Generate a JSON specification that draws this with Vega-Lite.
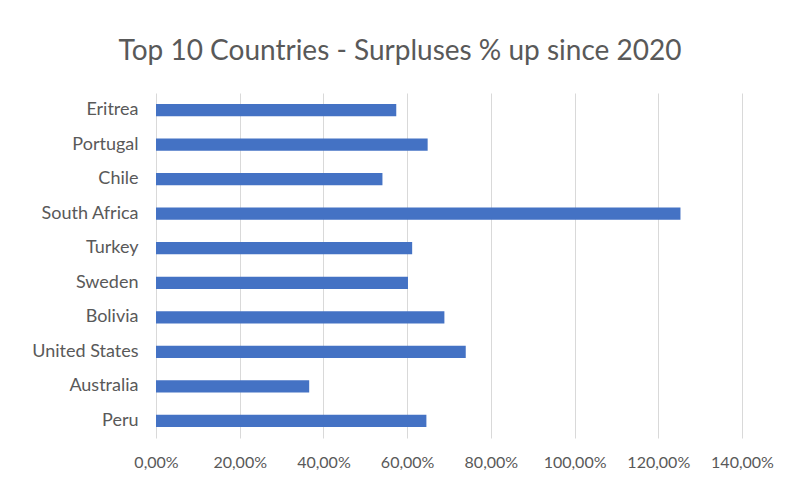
{
  "$schema": "https://vega.github.io/schema/vega-lite/v6.json",
  "width": 586,
  "height": 345,
  "autosize": {"type": "none"},
  "padding": {"left": 156, "top": 93, "right": 47, "bottom": 46},
  "background": "white",
  "title": {
    "text": "Top 10 Countries - Surpluses % up since 2020",
    "font": "Lato",
    "fontSize": 28,
    "fontWeight": "normal",
    "color": "#595959",
    "anchor": "middle",
    "dx": -49,
    "offset": 27
  },
  "data": {
    "values": [
      {"country": "Eritrea", "value": 0.574},
      {"country": "Portugal", "value": 0.649},
      {"country": "Chile", "value": 0.541},
      {"country": "South Africa", "value": 1.253},
      {"country": "Turkey", "value": 0.612},
      {"country": "Sweden", "value": 0.602},
      {"country": "Bolivia", "value": 0.689},
      {"country": "United States", "value": 0.740},
      {"country": "Australia", "value": 0.366},
      {"country": "Peru", "value": 0.646}
    ]
  },
  "mark": {"type": "bar", "color": "#4472C4"},
  "encoding": {
    "y": {
      "field": "country",
      "type": "nominal",
      "sort": null,
      "scale": {"paddingInner": 0.645, "paddingOuter": 0.32},
      "axis": {
        "title": null,
        "ticks": false,
        "domain": false,
        "labelPadding": 18,
        "labelFont": "Lato",
        "labelFontSize": 18,
        "labelColor": "#595959"
      }
    },
    "x": {
      "field": "value",
      "type": "quantitative",
      "scale": {"domain": [0, 1.4], "nice": false},
      "axis": {
        "title": null,
        "values": [0, 0.2, 0.4, 0.6, 0.8, 1.0, 1.2, 1.4],
        "labelExpr": "replace(format(datum.value, '.2%'), '.', ',')",
        "labelOverlap": false,
        "labelFlush": false,
        "ticks": false,
        "domain": false,
        "grid": true,
        "gridColor": "#d9d9d9",
        "gridWidth": 1,
        "labelPadding": 16,
        "labelFont": "Lato",
        "labelFontSize": 16,
        "labelColor": "#595959"
      }
    }
  },
  "config": {
    "view": {"stroke": null}
  }
}
